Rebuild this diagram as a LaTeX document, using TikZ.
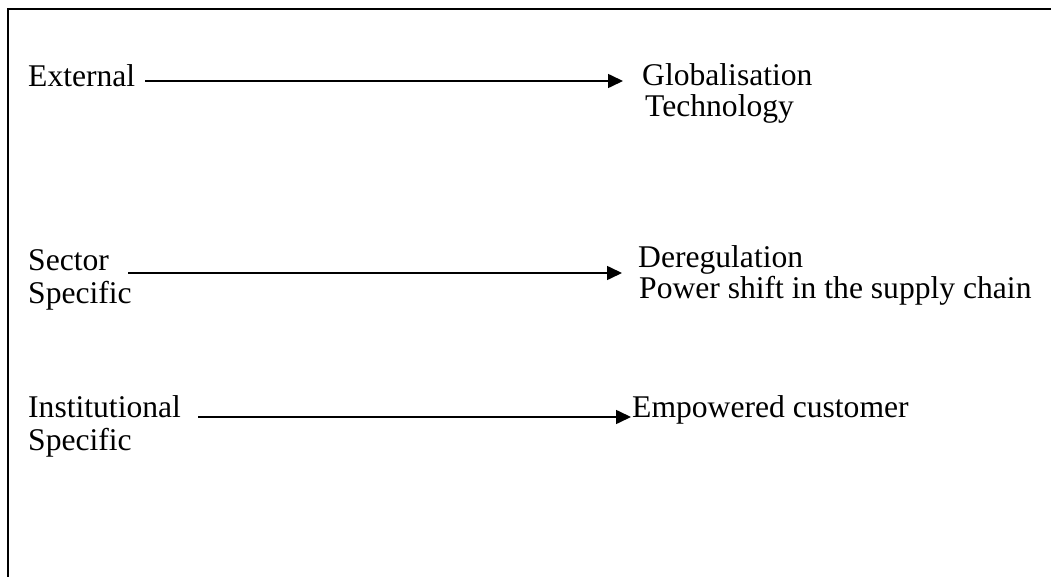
\documentclass[tikz,border=0pt]{standalone}
\usepackage{fontspec}
\setmainfont{Liberation Serif}
\usetikzlibrary{arrows.meta}
\begin{document}
\begin{tikzpicture}[x=1pt,y=-1pt,
  lbl/.style={anchor=base west,inner sep=0pt,font=\fontsize{31.6}{32}\selectfont},
  conn/.style={line width=1.6pt,-{Triangle[length=15pt,width=14pt]}},
  frame/.style={line width=2.5pt}]
\useasboundingbox (0,0) rectangle (1051,577);
\draw[frame] (8,580) -- (8,9) -- (1055,9);
% left labels
\node[lbl] (ext) at (28,87) {External};
\node[lbl] (sec) at (28,270) {Sector};
\node[lbl] (sec2) at (28,303) {Specific};
\node[lbl] (ins) at (28,417) {Institutional};
\node[lbl] (ins2) at (28,450) {Specific};
% right labels
\node[lbl] (glo) at (642,86) {Globalisation};
\node[lbl] (tec) at (645,117) {Technology};
\node[lbl] (der) at (638,267) {Deregulation};
\node[lbl] (pow) at (639,298) {Power shift in the supply chain};
\node[lbl] (emp) at (632,417) {Empowered customer};
% connector ends
\coordinate (a1s) at (145,81);
\coordinate (a1e) at (623,81);
\coordinate (a2s) at (128,273);
\coordinate (a2e) at (622,273);
\coordinate (a3s) at (198,417);
\coordinate (a3e) at (631,417);
\draw[conn] (a1s) -- (a1e);
\draw[conn] (a2s) -- (a2e);
\draw[conn] (a3s) -- (a3e);
\end{tikzpicture}
\end{document}
